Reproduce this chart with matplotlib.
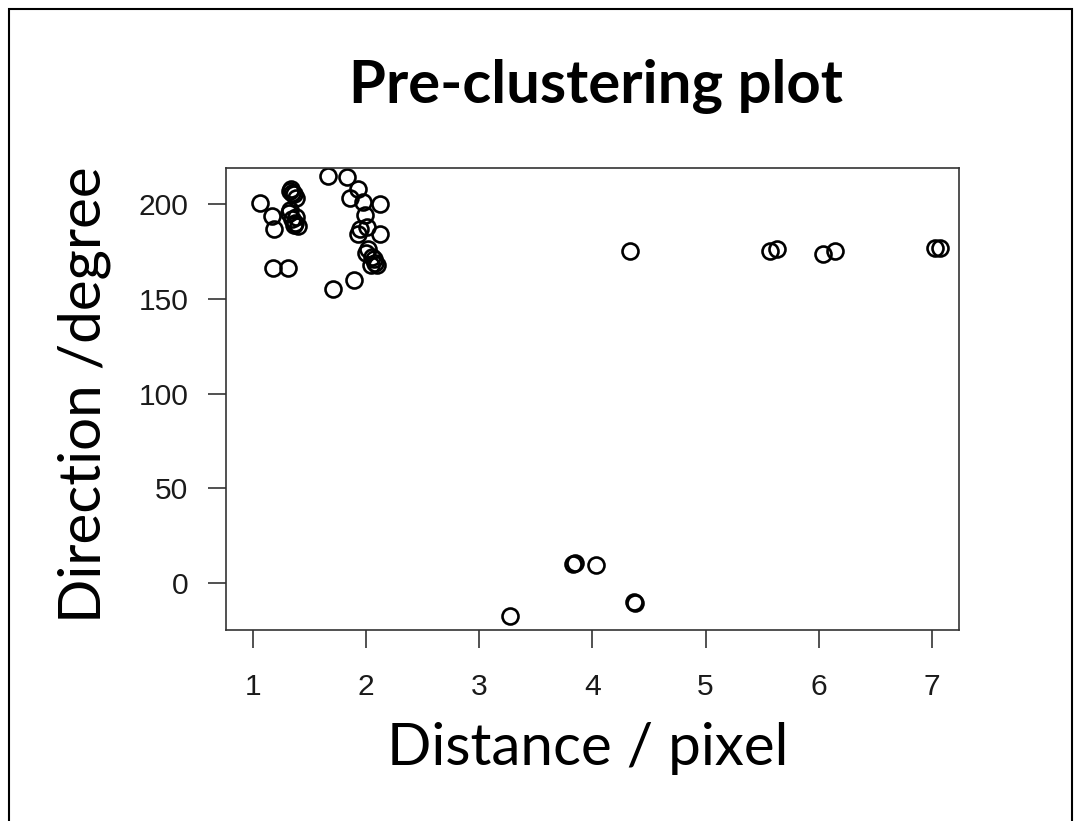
import numpy as np
import matplotlib
matplotlib.use('Agg')
from matplotlib import pyplot as plt
from matplotlib.patches import Rectangle

# distance (pixel) and direction (degree)
distance = [1.06, 1.17, 1.19, 1.18, 1.31,
            1.33, 1.34, 1.36, 1.38, 1.35,
            1.32, 1.35, 1.37, 1.38, 1.33, 1.36, 1.40,
            1.66, 1.83, 1.93, 1.86, 1.97, 2.12, 1.99, 1.95, 1.93, 2.12, 2.01,
            2.02, 2.05, 2.08, 2.10, 2.04, 2.07, 2.00,
            1.89, 1.71,
            3.27, 3.83, 3.85, 4.03, 4.37, 4.38,
            4.33, 5.57, 5.63, 6.04, 6.14, 7.03, 7.07]
direction = [200.7, 193.8, 186.9, 166.4, 166.4,
             207, 208, 205, 203, 206,
             195, 192, 190, 193, 197, 189, 188.6,
             215, 214, 208, 203, 201, 200, 194, 187, 184, 184, 188,
             176, 172, 169, 168, 168, 171, 174,
             160, 155.4,
             -17.5, 10, 10.5, 9.6, -9.8, -10.3,
             175.4, 175.4, 176.5, 173.8, 175.4, 177, 177]

xticks = [1, 2, 3, 4, 5, 6, 7]
yticks = [0, 50, 100, 150, 200]

fig = plt.figure(figsize=(10.81, 8.21), dpi=100)
fig.patch.set_facecolor('white')

# slide frame
fig.patches.append(Rectangle((9/1081, -0.1), 1063/1081, 1.1 - 9/821,
                             transform=fig.transFigure, fill=False,
                             edgecolor='black', linewidth=1.5))

ax = fig.add_axes([0.2088, 0.2327, 0.6784, 0.5623])
ax.plot(distance, direction, linestyle='none', marker='o', markersize=11.5,
        markerfacecolor='none', markeredgecolor='black', markeredgewidth=1.9)

ax.set_xlim(0.76, 7.24)
ax.set_ylim(-24.6, 218.8)
ax.set_xticks(xticks)
ax.set_yticks(yticks)
ax.tick_params(length=13, width=1.2, color='#333333', labelsize=21.6,
               labelcolor='#1a1a1a')
ax.tick_params(axis='x', pad=18)
ax.tick_params(axis='y', pad=14)
for lbl in ax.get_xticklabels() + ax.get_yticklabels():
    lbl.set_fontfamily('Liberation Sans')
for s in ax.spines.values():
    s.set_linewidth(1.2)
    s.set_color('#333333')

fig.text(596/1081, 1 - 103/821, 'Pre-clustering plot', ha='center',
         va='baseline', fontsize=43, fontweight='bold', family='Lato')
fig.text(588/1081, 1 - 765/821, 'Distance / pixel', ha='center',
         va='baseline', fontsize=42, family='Lato')
fig.text(84/1081, 1 - 395/821, 'Direction /degree', ha='center',
         va='center', rotation=90, fontsize=42, family='Lato')

fig.savefig('out.png', dpi=100, facecolor='white')
